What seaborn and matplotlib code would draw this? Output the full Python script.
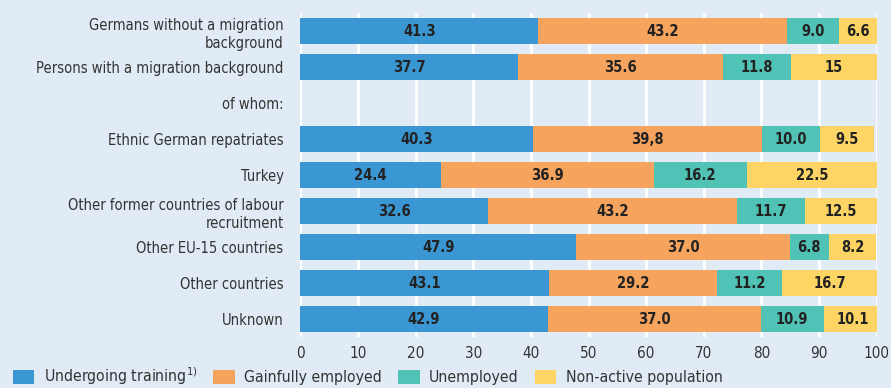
import matplotlib
matplotlib.use("Agg")
import matplotlib.pyplot as plt
from matplotlib.patches import Patch
import seaborn as sns
import pandas as pd
import numpy as np

categories = ["Germans without a migration\nbackground",
              "Persons with a migration background",
              "of whom:",
              "Ethnic German repatriates",
              "Turkey",
              "Other former countries of labour\nrecruitment",
              "Other EU-15 countries",
              "Other countries",
              "Unknown"]
series = ["Undergoing training$^{1)}$", "Gainfully employed", "Unemployed", "Non-active population"]
training = [41.3, 37.7, np.nan, 40.3, 24.4, 32.6, 47.9, 43.1, 42.9]
employed = [43.2, 35.6, np.nan, 39.8, 36.9, 43.2, 37.0, 29.2, 37.0]
unemployed = [9.0, 11.8, np.nan, 10.0, 16.2, 11.7, 6.8, 11.2, 10.9]
nonactive = [6.6, 15.0, np.nan, 9.5, 22.5, 12.5, 8.2, 16.7, 10.1]
training_lbl = ["41.3", "37.7", "", "40.3", "24.4", "32.6", "47.9", "43.1", "42.9"]
employed_lbl = ["43.2", "35.6", "", "39,8", "36.9", "43.2", "37.0", "29.2", "37.0"]
unemployed_lbl = ["9.0", "11.8", "", "10.0", "16.2", "11.7", "6.8", "11.2", "10.9"]
nonactive_lbl = ["6.6", "15", "", "9.5", "22.5", "12.5", "8.2", "16.7", "10.1"]
xticks = [0, 10, 20, 30, 40, 50, 60, 70, 80, 90, 100]

colors = ["#3b97d3", "#f6a35d", "#50c2b6", "#fed565"]
bg = "#e1ebf5"

sns.set_theme(style="white")
plt.rcParams["font.family"] = ["DejaVu Sans"]
plt.rcParams["font.stretch"] = "condensed"

df = pd.DataFrame({"cat": categories, "s0": training, "s1": employed,
                   "s2": unemployed, "s3": nonactive})
vals = df[["s0", "s1", "s2", "s3"]].to_numpy()
cum = np.nancumsum(vals, axis=1)
cum[np.isnan(vals)] = np.nan
for i in range(4):
    df[f"c{i}"] = cum[:, i]

fig = plt.figure(figsize=(8.91, 3.88), dpi=100, facecolor=bg)
ax = fig.add_axes([0.337, 0.131, 0.647, 0.835])
ax.set_facecolor(bg)

for i in [3, 2, 1, 0]:
    sns.barplot(data=df, y="cat", x=f"c{i}", order=categories, orient="h",
                color=colors[i], saturation=1, width=0.72, ax=ax, zorder=3,
                edgecolor="none", linewidth=0)

labels = [training_lbl, employed_lbl, unemployed_lbl, nonactive_lbl]
for r in range(len(categories)):
    for i in range(4):
        if np.isnan(vals[r, i]):
            continue
        xc = cum[r, i] - vals[r, i] / 2
        ax.text(xc, r, labels[i][r], ha="center", va="center", fontsize=10.5,
                fontweight="bold", color="#222222", zorder=5)

ax.set_xlim(0, 100)
ax.set_ylim(len(categories) - 0.5, -0.5)
ax.set_xticks(xticks)
ax.set_xticklabels([str(t) for t in xticks])
ax.xaxis.grid(True, color="white", linewidth=2)
ax.set_axisbelow(True)
ax.set_xlabel("")
ax.set_ylabel("")
for s in ax.spines.values():
    s.set_visible(False)
ax.tick_params(axis="x", colors="white", length=4, width=2, pad=2, labelsize=11,
               labelcolor="#333333")
ax.tick_params(axis="y", length=0, pad=12, labelsize=10.5, labelcolor="#333333")
for lab in ax.get_yticklabels():
    lab.set_multialignment("right")
    lab.set_linespacing(1.3)

handles = [Patch(facecolor=c, edgecolor="none") for c in colors]
fig.legend(handles, series, loc="center left", bbox_to_anchor=(0.0146, 0.03), ncol=4,
           frameon=False, fontsize=11.3, handlelength=1.35, handleheight=1.0,
           handletextpad=0.6, columnspacing=1.05, labelcolor="#333333",
           borderpad=0, borderaxespad=0)

fig.savefig("out.png", dpi=100, facecolor=bg)
